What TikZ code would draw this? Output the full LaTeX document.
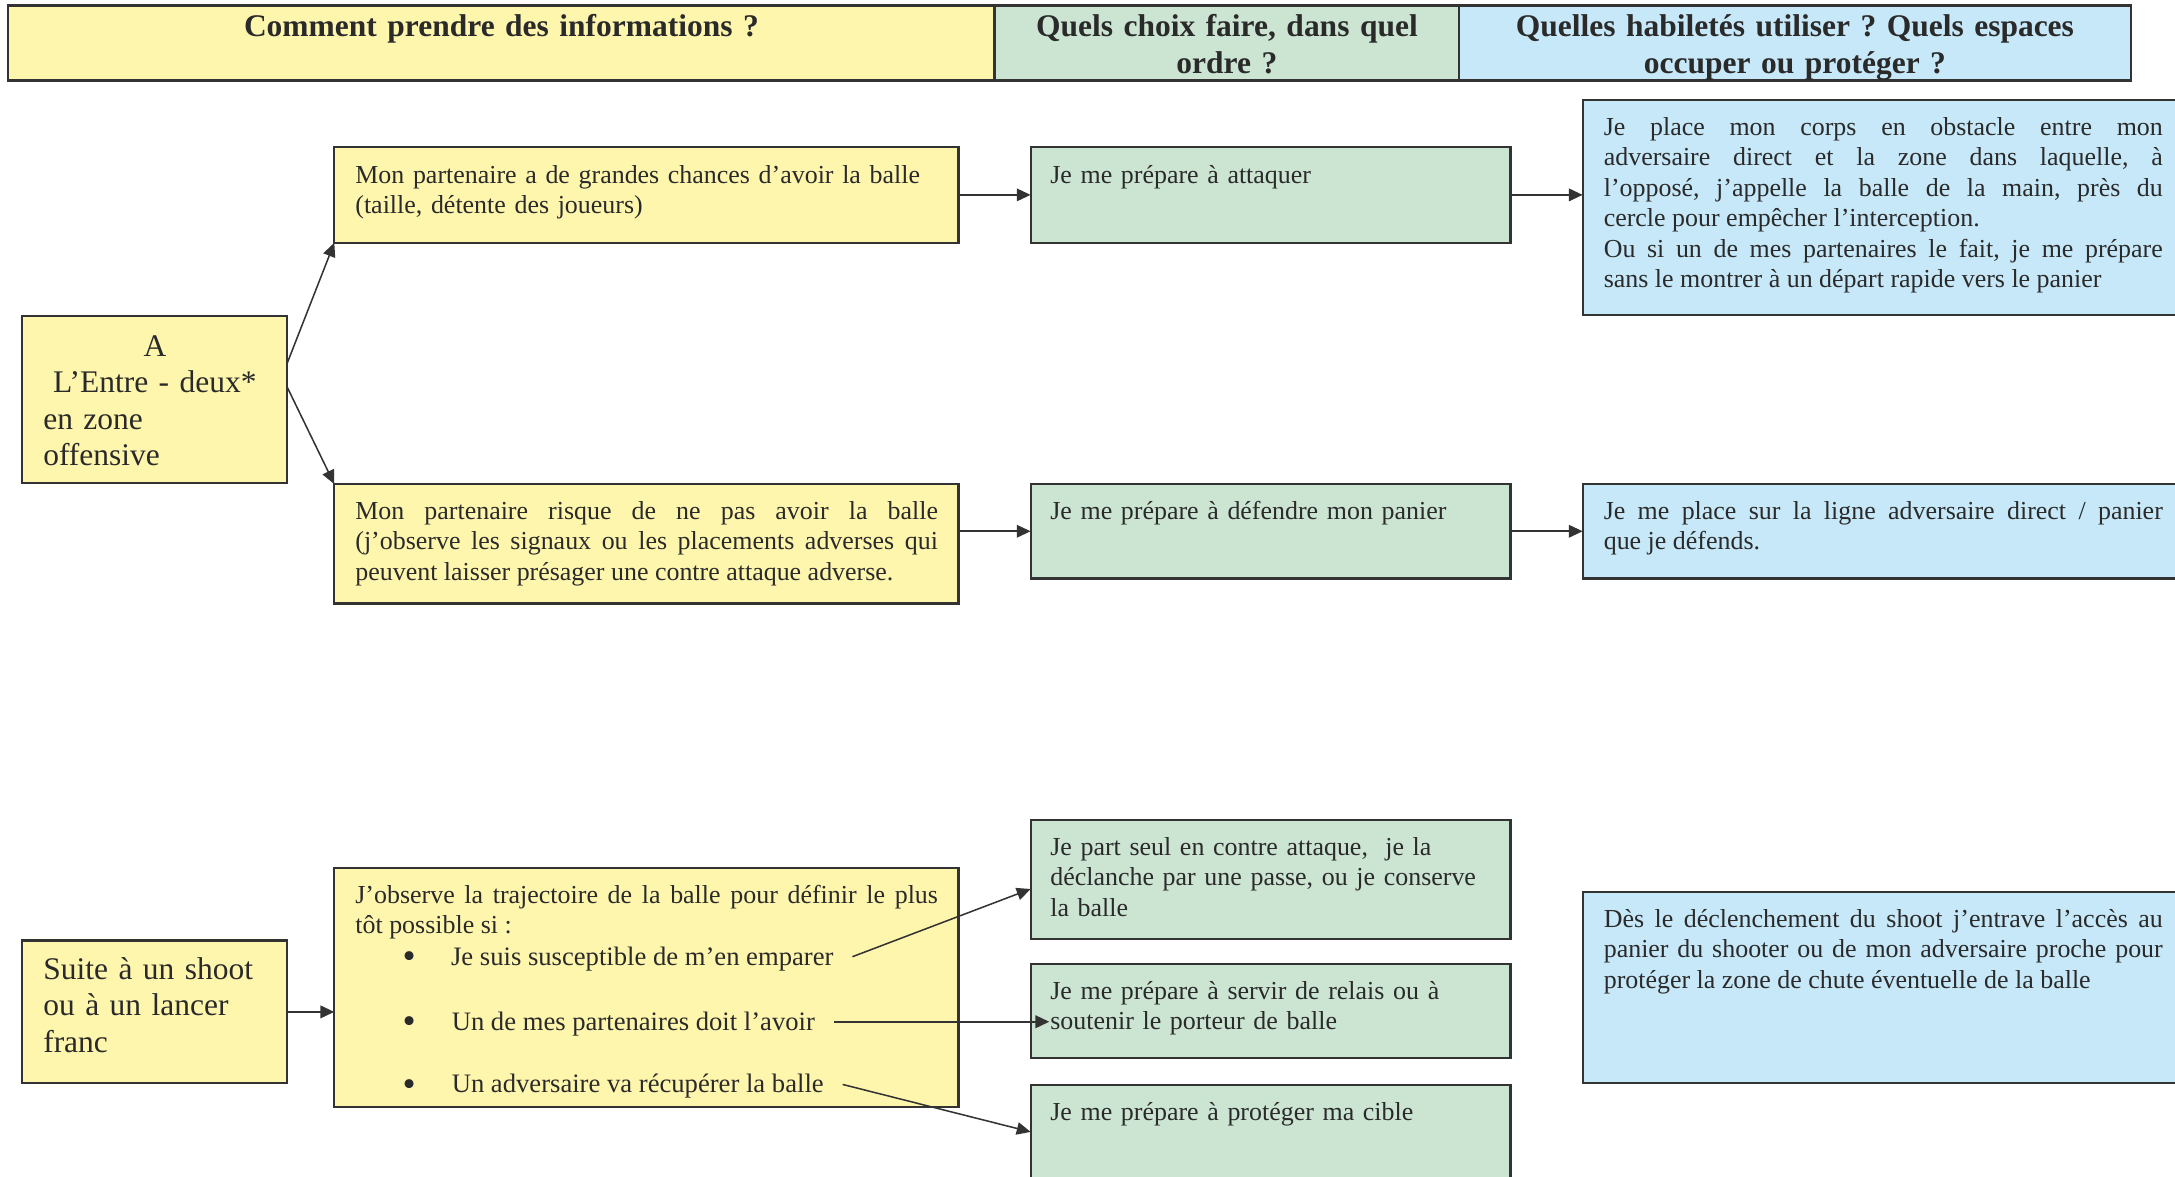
\documentclass[tikz,border=0pt]{standalone}
\usepackage{fontspec}
\setmainfont{Liberation Serif}
\usetikzlibrary{arrows.meta,calc}
\definecolor{ylw}{HTML}{FFF6AE}
\definecolor{grn}{HTML}{CCE5D3}
\definecolor{blu}{HTML}{C7E8F8}
\definecolor{edge}{HTML}{333333}
\definecolor{ink}{HTML}{2A2A2A}
\hbadness=10000
\hfuzz=20pt
\frenchspacing
\begin{document}
\begin{tikzpicture}[x=1pt,y=-1pt,
  box/.style={draw=edge, line width=1.6pt, anchor=north west, inner sep=0pt, outer sep=0pt},
  hdr/.style={anchor=base, align=center, inner sep=0pt, text=ink, font=\frenchspacing\bfseries\fontsize{22.7}{26.5}\selectfont},
  body/.style={anchor=base west, inner sep=0pt, text=ink, font=\frenchspacing\fontsize{18.7}{22}\selectfont},
  item/.style={anchor=base west, inner sep=0pt, text=ink, font=\frenchspacing\fontsize{19.2}{22}\selectfont},
  big/.style={anchor=base west, inner sep=0pt, text=ink, font=\frenchspacing\fontsize{22.7}{26.3}\selectfont},
  bul/.style={anchor=base, inner sep=0pt, text=ink, font=\fontsize{27}{27}\selectfont},
  arr/.style={draw=edge, line width=1.5pt, -{Triangle[length=10pt,width=9pt]}},
  arrthin/.style={draw=edge, line width=1.1pt, -{Triangle[length=10pt,width=9pt]}}]
\useasboundingbox (0,0) rectangle (1568,848);
\fill[white] (0,0) rectangle (1568,848);

% header
\node[box, fill=ylw, minimum width=711, minimum height=54] (h1) at (6,4) {};
\node[box, fill=grn, minimum width=335, minimum height=54] (h2) at (717,4) {};
\node[box, fill=blu, minimum width=484, minimum height=54] (h3) at (1052,4) {};
\node[hdr, text width=700] (h1t) at (361.5,26.5) {Comment prendre des informations ?};
\node[hdr, text width=330] (h2t) at (884.5,26.5) {Quels choix faire, dans quel\\ordre ?};
\node[hdr, text width=480] (h3t) at (1294,26.5) {Quelles habiletés utiliser ? Quels espaces\\occuper ou protéger ?};

% row A
\node[box, fill=ylw, minimum width=191, minimum height=120] (a) at (16,228) {};
\node[big, text width=161, align=left] (at) at (31,256.7) {{\centering A\\ L’Entre - deux*\par}en zone\\offensive};

\node[box, fill=ylw, minimum width=450, minimum height=69] (y1) at (241,106) {};
\node[body, text width=420, align=left] (y1t) at (256,132) {Mon partenaire a de grandes chances d’avoir la balle\\(taille, détente des joueurs)};

\node[box, fill=grn, minimum width=346, minimum height=69] (g1) at (743,106) {};
\node[body, text width=316, align=left] (g1t) at (757,132) {Je me prépare à attaquer};

\node[box, fill=blu, minimum width=433, minimum height=155] (b1) at (1141,72) {};
\node[body, text width=403, align=justify] (b1t) at (1156,97.5) {Je place mon corps en obstacle entre mon\linebreak adversaire direct et la zone dans laquelle, à\linebreak l’opposé, j’appelle la balle de la main, près du\linebreak cercle pour empêcher l’interception.\\Ou si un de mes partenaires le fait, je me prépare\linebreak sans le montrer à un départ rapide vers le panier};

\node[box, fill=ylw, minimum width=450, minimum height=86] (y2) at (241,349) {};
\node[body, text width=420, align=justify] (y2t) at (256,374.5) {Mon partenaire risque de ne pas avoir la balle\linebreak (j’observe les signaux ou les placements adverses qui\linebreak peuvent laisser présager une contre attaque adverse.};

\node[box, fill=grn, minimum width=346, minimum height=68] (g2) at (743,349) {};
\node[body, text width=316, align=left] (g2t) at (757,374.5) {Je me prépare à défendre mon panier};

\node[box, fill=blu, minimum width=433, minimum height=68] (b2) at (1141,349) {};
\node[body, text width=403, align=justify] (b2t) at (1156,374.5) {Je me place sur la ligne adversaire direct / panier\linebreak que je défends.};

% row shoot
\node[box, fill=ylw, minimum width=191, minimum height=103] (s) at (16,678) {};
\node[big, text width=170, align=left] (st) at (31,706) {Suite à un shoot\\ou à un lancer\\franc};

\node[box, fill=ylw, minimum width=450, minimum height=172] (y3) at (241,626) {};
\node[body, text width=420, align=justify] (y3t) at (256,651) {J’observe la trajectoire de la balle pour définir le plus\linebreak tôt possible si :};
\node[bul] (d1) at (295,698.5) {•};
\node[bul] (d2) at (295,745.4) {•};
\node[bul] (d3) at (295,790.6) {•};
\node[item] (t1) at (325,695.7) {Je suis susceptible de m’en emparer};
\node[item] (t2) at (325.5,742.6) {Un de mes partenaires doit l’avoir};
\node[item] (t3) at (325.5,787.8) {Un adversaire va récupérer la balle};

\node[box, fill=grn, minimum width=346, minimum height=86] (g3) at (743,591) {};
\node[body, text width=330, align=left] (g3t) at (757,616.5) {Je part seul en contre attaque,\ \ je la\\déclanche par une passe, ou je conserve\\la balle};

\node[box, fill=grn, minimum width=346, minimum height=68] (g4) at (743,695) {};
\node[body, text width=330, align=left] (g4t) at (757,720.5) {Je me prépare à servir de relais ou à\\soutenir le porteur de balle};

\node[box, fill=grn, minimum width=346, minimum height=90] (g5) at (743,782) {};
\node[body, text width=330, align=left] (g5t) at (757,807.5) {Je me prépare à protéger ma cible};

\node[box, fill=blu, minimum width=433, minimum height=138] (b3) at (1141,643) {};
\node[body, text width=403, align=justify] (b3t) at (1156,668.5) {Dès le déclenchement du shoot j’entrave l’accès au\linebreak panier du shooter ou de mon adversaire proche pour\linebreak protéger la zone de chute éventuelle de la balle};

% connectors
\draw[arrthin] ($(a.north east)!0.283!(a.south east)$) -- (y1.south west);
\draw[arrthin] ($(a.north east)!0.425!(a.south east)$) -- (y2.north west);
\draw[arr] (y1.east) -- (g1.west);
\draw[arr] (g1.east) -- (g1.east -| b1.west);
\draw[arr] (y2.east |- g2.west) -- (g2.west);
\draw[arr] (g2.east) -- (b2.west);
\draw[arr] (s.east) -- (s.east -| y3.west);
\draw[arrthin] ([xshift=13.5pt,yshift=6pt]t1.base east) -- ($(g3.north west)!0.58!(g3.south west)$);
\draw[arr] ([xshift=13.5pt,yshift=6pt]t2.base east) -- ([xshift=13.5pt,yshift=6pt]t2.base east -| g4.west);
\draw[arrthin] ([xshift=13.5pt,yshift=6pt]t3.base east) -- ([yshift=-34pt]g5.north west);
\end{tikzpicture}
\end{document}
